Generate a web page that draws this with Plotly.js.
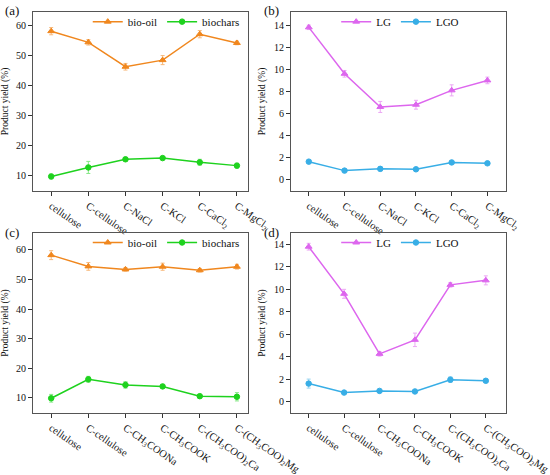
<!DOCTYPE html>
<html><head><meta charset="utf-8">
<script src="https://cdn.plot.ly/plotly-3.0.1.min.js"></script>
<style>html,body{margin:0;padding:0;background:#fff}#p{width:550px;height:475px}</style>
</head><body><div id="p"></div>
<script>
const catsTop = ['cellulose','C-cellulose','C-NaCl','C-KCl','C-CaCl<sub>2</sub>','C-MgCl<sub>2</sub>'];
const catsBot = ['cellulose','C-cellulose','C-CH<sub>3</sub>COONa','C-CH<sub>3</sub>COOK','C-(CH<sub>3</sub>COO)<sub>2</sub>Ca','C-(CH<sub>3</sub>COO)<sub>2</sub>Mg'];

const bioOilA = [58.0, 54.3, 46.2, 48.4, 57.0, 54.1];
const bioOilAErr = [1.2, 0.9, 1.1, 1.5, 1.2, 0.6];
const biocharA = [9.8, 12.8, 15.5, 15.9, 14.5, 13.4];
const biocharAErr = [0.8, 2.0, 0.6, 0.5, 1.0, 0.8];

const lgB = [13.8, 9.6, 6.6, 6.8, 8.1, 9.0];
const lgBErr = [0.2, 0.3, 0.5, 0.4, 0.5, 0.3];
const lgoB = [1.65, 0.84, 1.0, 0.96, 1.58, 1.5];
const lgoBErr = [0.1, 0.1, 0.2, 0.15, 0.1, 0.1];

const bioOilC = [58.2, 54.4, 53.4, 54.3, 53.1, 54.3];
const bioOilCErr = [1.5, 1.3, 0.6, 1.2, 0.6, 0.8];
const biocharC = [9.9, 16.3, 14.4, 13.9, 10.6, 10.4];
const biocharCErr = [1.3, 1.0, 1.1, 0.5, 0.6, 1.4];

const lgD = [13.8, 9.6, 4.25, 5.5, 10.4, 10.8];
const lgDErr = [0.3, 0.4, 0.2, 0.6, 0.2, 0.4];
const lgoD = [1.6, 0.8, 0.95, 0.9, 1.95, 1.85];
const lgoDErr = [0.4, 0.1, 0.1, 0.1, 0.25, 0.15];

const ORANGE = '#F0871E', ORANGE_E = '#F7B87A';
const GREEN = '#1ED21E', GREEN_E = '#86E886';
const VIOLET = '#DD66EE', VIOLET_E = '#ECA8F4';
const BLUE = '#38AEE6', BLUE_E = '#96D3F0';
const FONT = '"Liberation Serif", "Times New Roman", serif';

function tr(x, y, err, name, color, ecolor, sym, xa, ya, leg) {
  return {
    x: x, y: y, name: name, type: 'scatter', mode: 'lines+markers',
    xaxis: xa, yaxis: ya, legend: leg,
    line: {color: color, width: 1.5},
    marker: {color: color, symbol: sym, size: sym === 'circle' ? 5.5 : 6,
             line: {color: color, width: 1}},
    error_y: {type: 'data', array: err, visible: true, color: ecolor, thickness: 1, width: 2}
  };
}

const data = [
  tr(catsTop, bioOilA, bioOilAErr, 'bio-oil', ORANGE, ORANGE_E, 'triangle-up', 'x', 'y', 'legend'),
  tr(catsTop, biocharA, biocharAErr, 'biochars', GREEN, GREEN_E, 'circle', 'x', 'y', 'legend'),
  tr(catsTop, lgB, lgBErr, 'LG', VIOLET, VIOLET_E, 'triangle-up', 'x2', 'y2', 'legend2'),
  tr(catsTop, lgoB, lgoBErr, 'LGO', BLUE, BLUE_E, 'circle', 'x2', 'y2', 'legend2'),
  tr(catsBot, bioOilC, bioOilCErr, 'bio-oil', ORANGE, ORANGE_E, 'triangle-up', 'x3', 'y3', 'legend3'),
  tr(catsBot, biocharC, biocharCErr, 'biochars', GREEN, GREEN_E, 'circle', 'x3', 'y3', 'legend3'),
  tr(catsBot, lgD, lgDErr, 'LG', VIOLET, VIOLET_E, 'triangle-up', 'x4', 'y4', 'legend4'),
  tr(catsBot, lgoD, lgoDErr, 'LGO', BLUE, BLUE_E, 'circle', 'x4', 'y4', 'legend4')
];

function xax(dom, anchor, range) {
  return {domain: dom, anchor: anchor, type: 'category', range: range,
    showline: true, mirror: true, linecolor: '#555', linewidth: 1,
    ticks: 'outside', ticklen: 4, tickcolor: '#333', tickangle: 35,
    tickfont: {family: FONT, size: 10.5, color: '#111'}, showgrid: false, zeroline: false, automargin: false};
}
function yax(dom, anchor, range, dtick) {
  return {domain: dom, anchor: anchor, range: range, dtick: dtick, tick0: 0,
    showline: true, mirror: true, linecolor: '#555', linewidth: 1,
    ticks: 'outside', ticklen: 4, tickcolor: '#333',
    tickfont: {family: FONT, size: 10, color: '#111'}, showgrid: false, zeroline: false,
    title: {text: 'Product yield (%)', font: {family: FONT, size: 9.5, color: '#111'}, standoff: 6},
    automargin: false};
}
function leg(x, y) {
  return {x: x, y: y, xanchor: 'right', yanchor: 'top', orientation: 'h',
    bgcolor: 'rgba(0,0,0,0)', font: {family: FONT, size: 11, color: '#111'},
    itemwidth: 30, tracegroupgap: 0, itemclick: false};
}

const yTop = [0.598, 0.975], yBot = [0.131, 0.509];
const xL = [0.06, 0.451], xR = [0.529, 0.92];

const layout = {
  width: 550, height: 475, margin: {l: 0, r: 0, t: 0, b: 0},
  paper_bgcolor: '#fff', plot_bgcolor: '#fff', showlegend: true,
  font: {family: FONT},
  xaxis: xax(xL, 'y', [-0.49, 5.3]),
  yaxis: yax(yTop, 'x', [5, 64.4], 10),
  xaxis2: xax(xR, 'y2', [-0.5, 5.52]),
  yaxis2: yax(yTop, 'x2', [-1, 15.2], 2),
  xaxis3: xax(xL, 'y3', [-0.49, 5.3]),
  yaxis3: yax(yBot, 'x3', [5, 65.6], 10),
  xaxis4: xax(xR, 'y4', [-0.5, 5.57]),
  yaxis4: yax(yBot, 'x4', [-1, 15], 2),
  legend: leg(0.445, 0.985),
  legend2: leg(0.844, 0.985),
  legend3: leg(0.445, 0.52),
  legend4: leg(0.844, 0.52),
  annotations: [
    {text: '(a)', x: 0.005, y: 0.978, xref: 'paper', yref: 'paper', xanchor: 'left', yanchor: 'middle', showarrow: false, font: {family: FONT, size: 13, color: '#111'}},
    {text: '(b)', x: 0.477, y: 0.978, xref: 'paper', yref: 'paper', xanchor: 'left', yanchor: 'middle', showarrow: false, font: {family: FONT, size: 13, color: '#111'}},
    {text: '(c)', x: 0.005, y: 0.51, xref: 'paper', yref: 'paper', xanchor: 'left', yanchor: 'middle', showarrow: false, font: {family: FONT, size: 13, color: '#111'}},
    {text: '(d)', x: 0.477, y: 0.51, xref: 'paper', yref: 'paper', xanchor: 'left', yanchor: 'middle', showarrow: false, font: {family: FONT, size: 13, color: '#111'}}
  ]
};

Plotly.newPlot('p', data, layout, {displayModeBar: false, staticPlot: true});
</script></body></html>
